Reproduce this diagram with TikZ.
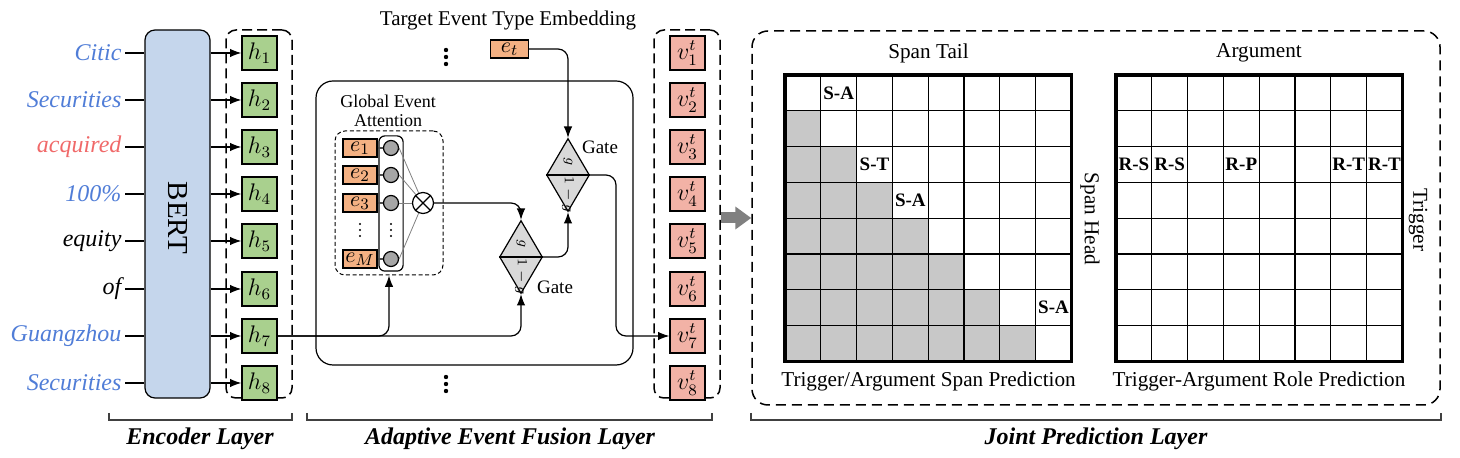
\documentclass[tikz,border=0pt]{standalone}
\usepackage{fontspec}
\setmainfont{Liberation Serif}
\usepackage{xcolor}
\usepackage{tikz}
\usetikzlibrary{arrows.meta}
\usetikzlibrary{positioning}
\usetikzlibrary{shapes}
\usetikzlibrary{fit}

\definecolor{wordblue}{RGB}{80,125,215}
\definecolor{wordred}{RGB}{240,105,105}
\definecolor{bertblue}{RGB}{197,214,236}
\definecolor{hgreen}{RGB}{169,208,142}
\definecolor{eorange}{RGB}{244,177,131}
\definecolor{vpink}{RGB}{242,178,166}
\definecolor{gatefill}{RGB}{217,217,217}
\definecolor{unitgray}{RGB}{166,166,166}
\definecolor{cellgray}{RGB}{200,200,200}
\definecolor{fatgray}{RGB}{128,128,128}

\tikzset{
	word/.style={anchor=east, inner sep=1.5pt, font=\fontsize{12}{14}\selectfont\itshape},
	bertbox/.style={draw, fill=bertblue, rounded corners=5pt, minimum width=32.5pt, minimum height=184pt},
	hbox/.style={draw, fill=hgreen, minimum width=17.5pt, minimum height=17pt, inner sep=0pt, font=\fontsize{12}{14}\selectfont},
	vbox/.style={draw, fill=vpink, minimum width=17.5pt, minimum height=17pt, inner sep=0pt, font=\fontsize{12}{14}\selectfont},
	ebox/.style={draw, fill=eorange, minimum width=17pt, minimum height=9pt, inner sep=0pt, font=\fontsize{11}{12}\selectfont},
	colbox/.style={draw, dash pattern=on 5pt off 2.5pt, line width=0.75pt, rounded corners=5pt, minimum width=33pt, minimum height=184pt},
	attbox/.style={draw, dash pattern=on 2pt off 1.3pt, line width=0.5pt, rounded corners=5pt, minimum width=54pt, minimum height=72pt},
	unit/.style={circle, draw, fill=unitgray, minimum size=7.5pt, inner sep=0pt},
	gate/.style={diamond, draw, fill=gatefill, minimum width=21.5pt, minimum height=36.5pt, inner sep=0pt},
	gatetxt/.style={rotate=-90, inner sep=0pt, font=\fontsize{7}{8}\selectfont},
	link/.style={-{Latex}, rounded corners=5pt},
	fatarrow/.style={draw=fatgray, line width=5.5pt, -{Triangle[length=8pt,width=11pt]}},
	layerbrace/.style={draw=black!75, line width=0.6pt},
	layername/.style={font=\fontsize{12}{14}\selectfont\bfseries\itshape},
	tag/.style={inner sep=0pt, font=\fontsize{9.5}{10}\selectfont\bfseries},
	gridtitle/.style={font=\fontsize{10.6}{12}\selectfont},
}

\begin{document}
\begin{tikzpicture}[x=0.5pt, y=-0.5pt, line width=0.6pt, >=latex, font=\fontsize{10.5}{12}\selectfont]

	\useasboundingbox (0,0) rectangle (1460,458);

	% encoder layer
	\node[word, wordblue] (w1) at (125, 53) {Citic};
	\node[word, wordblue] (w2) at (125, 100) {Securities};
	\node[word, wordred] (w3) at (125, 147) {acquired};
	\node[word, wordblue] (w4) at (125, 194) {100\%};
	\node[word] (w5) at (125, 241) {equity};
	\node[word] (w6) at (125, 289) {of};
	\node[word, wordblue] (w7) at (125, 336) {Guangzhou};
	\node[word, wordblue] (w8) at (125, 383) {Securities};

	\node[bertbox] (bert) at (177.5, 214) {};
	\node[rotate=-90, font=\fontsize{14.5}{16}\selectfont] (berttxt) at (177.5, 218) {BERT};

	\node[colbox] (hcol) at (259, 214) {};
	\node[hbox] (h1) at (259.5, 53) {$h_1$};
	\node[hbox] (h2) at (259.5, 100) {$h_2$};
	\node[hbox] (h3) at (259.5, 147) {$h_3$};
	\node[hbox] (h4) at (259.5, 194) {$h_4$};
	\node[hbox] (h5) at (259.5, 241) {$h_5$};
	\node[hbox] (h6) at (259.5, 289) {$h_6$};
	\node[hbox] (h7) at (259.5, 336) {$h_7$};
	\node[hbox] (h8) at (259.5, 383) {$h_8$};

	\draw (w1.east) -- (w1 -| bert.west);
	\draw (w2.east) -- (w2 -| bert.west);
	\draw (w3.east) -- (w3 -| bert.west);
	\draw (w4.east) -- (w4 -| bert.west);
	\draw (w5.east) -- (w5 -| bert.west);
	\draw (w6.east) -- (w6 -| bert.west);
	\draw (w7.east) -- (w7 -| bert.west);
	\draw (w8.east) -- (w8 -| bert.west);

	\draw[-{Latex}] (h1 -| bert.east) -- (h1.west);
	\draw[-{Latex}] (h2 -| bert.east) -- (h2.west);
	\draw[-{Latex}] (h3 -| bert.east) -- (h3.west);
	\draw[-{Latex}] (h4 -| bert.east) -- (h4.west);
	\draw[-{Latex}] (h5 -| bert.east) -- (h5.west);
	\draw[-{Latex}] (h6 -| bert.east) -- (h6.west);
	\draw[-{Latex}] (h7 -| bert.east) -- (h7.west);
	\draw[-{Latex}] (h8 -| bert.east) -- (h8.west);

	% adaptive event fusion layer
	\node (target) at (508, 20) {Target Event Type Embedding};
	\node[ebox, minimum width=19pt] (et) at (509.5, 49) {$e_t$};
	\foreach \d in {50,57,64} \fill (446,\d) circle (2.2);
	\foreach \d in {377,384,391} \fill (446,\d) circle (2.2);

	\node[draw, rounded corners=8.5pt, minimum width=158.5pt, minimum height=142pt] (fuse) at (474.5, 223) {};

	\node[align=center, font=\fontsize{9}{9.5}\selectfont] (atttitle) at (388, 111) {Global Event\\Attention};
	\node[attbox] (att) at (389, 203) {};

	\node[ebox] (e1) at (360, 148) {$e_1$};
	\node[ebox] (e2) at (360, 175) {$e_2$};
	\node[ebox] (e3) at (360, 203) {$e_3$};
	\node[ebox] (eM) at (360, 259) {$e_M$};
	\foreach \d in {224,230,236} \fill (360,\d) circle (1.2);

	\node[unit] (c1) at (391, 148) {};
	\node[unit] (c2) at (391, 175) {};
	\node[unit] (c3) at (391, 203) {};
	\node[unit] (cM) at (391, 259) {};
	\foreach \d in {224,230,236} \fill (391,\d) circle (1.2);
	\node[draw, rounded corners=3pt, inner sep=2pt, fit=(c1)(cM)] (units) {};

	\node[circle, draw, fill=white, minimum size=10.5pt, inner sep=0pt] (ot) at (423, 203) {};
	\draw (ot.north west) -- (ot.south east) (ot.north east) -- (ot.south west);

	\draw[black!70] (e1.east) -- (c1.west);
	\draw[black!70] (e2.east) -- (c2.west);
	\draw[black!70] (e3.east) -- (c3.west);
	\draw[black!70] (eM.east) -- (cM.west);
	\draw[gray, line width=0.4pt] (c1.east) -- (ot);
	\draw[gray, line width=0.4pt] (c2.east) -- (ot);
	\draw[gray, line width=0.4pt] (c3.east) -- (ot);
	\draw[gray, line width=0.4pt] (cM.east) -- (ot);

	\node[gate] (gl) at (521, 257) {};
	\draw (gl.west) -- (gl.east);
	\node[gatetxt] (glg) at ([yshift=6.5pt]gl.center) {$g$};
	\node[gatetxt] (gl1g) at ([yshift=-10pt]gl.center) {$1-g$};
	\node (gllabel) at (555, 287) {\fontsize{9.5}{10}\selectfont Gate};

	\node[gate] (gu) at (568, 175) {};
	\draw (gu.west) -- (gu.east);
	\node[gatetxt] (gug) at ([yshift=6.5pt]gu.center) {$g$};
	\node[gatetxt] (gu1g) at ([yshift=-10pt]gu.center) {$1-g$};
	\node (gulabel) at (600, 147) {\fontsize{9.5}{10}\selectfont Gate};

	\coordinate (drop) at (616, 175);

	\draw[link] (et.east) -- (et.east -| gu.north) -- (gu.north);
	\draw[link] (ot.east) -- (ot.east -| gl.north) -- (gl.north);
	\draw[link] (gl.east) -- (gl.east -| gu.south) -- (gu.south);
	\draw[link] (h7.east) -- (h7.east -| att.south) -- (att.south);
	\draw[link] (h7.east) -- (h7.east -| gl.south) -- (gl.south);

	\node[colbox] (vcol) at (687, 214) {};
	\node[vbox] (v1) at (687.5, 53) {$v_1^t$};
	\node[vbox] (v2) at (687.5, 100) {$v_2^t$};
	\node[vbox] (v3) at (687.5, 147) {$v_3^t$};
	\node[vbox] (v4) at (687.5, 194) {$v_4^t$};
	\node[vbox] (v5) at (687.5, 241) {$v_5^t$};
	\node[vbox] (v6) at (687.5, 289) {$v_6^t$};
	\node[vbox] (v7) at (687.5, 336) {$v_7^t$};
	\node[vbox] (v8) at (687.5, 383) {$v_8^t$};

	\draw[link] (gu.east) -- (drop) -- (drop |- v7.west) -- (v7.west);

	% joint prediction layer
	\node[draw, dash pattern=on 5pt off 3pt, line width=0.75pt, rounded corners=8pt, minimum width=344pt, minimum height=187pt] (joint) at (1096, 218) {};
	\draw[fatarrow] (vcol.east |- joint.west) -- (joint.west);

	% span grid
	\begin{scope}[shift={(785,75)}]
		\foreach \r in {1,...,7}
			\foreach \c in {1,...,\r}
				\fill[cellgray] ({(\c-1)*35.8},{\r*35.8}) rectangle ++(35.8,35.8);
		\foreach \i in {1,...,7} {
			\draw ({\i*35.8},0) -- ({\i*35.8},286.4);
			\draw (0,{\i*35.8}) -- (286.4,{\i*35.8});
		}
		\draw[line width=1.6pt] (0,0) rectangle (286.4,286.4);
		\node[tag] (sa1) at ({1.5*35.8},{0.5*35.8}) {S-A};
		\node[tag] (st1) at ({2.5*35.8},{2.5*35.8}) {S-T};
		\node[tag] (sa2) at ({3.5*35.8},{3.5*35.8}) {S-A};
		\node[tag] (sa3) at ({7.5*35.8},{6.5*35.8}) {S-A};
	\end{scope}
	\node[gridtitle] (spantail) at (928.5, 53) {Span Tail};
	\node[gridtitle, rotate=-90] (spanhead) at (1090, 219) {Span Head};
	\node[gridtitle] (spanpred) at (928.5, 381) {Trigger/Argument Span Prediction};

	% role grid
	\begin{scope}[shift={(1116,75)}]
		\foreach \i in {1,...,7} {
			\draw ({\i*35.8},0) -- ({\i*35.8},286.4);
			\draw (0,{\i*35.8}) -- (286.4,{\i*35.8});
		}
		\draw[line width=1.6pt] (0,0) rectangle (286.4,286.4);
		\node[tag] (rs1) at ({0.5*35.8},{2.5*35.8}) {R-S};
		\node[tag] (rs2) at ({1.5*35.8},{2.5*35.8}) {R-S};
		\node[tag] (rp1) at ({3.5*35.8},{2.5*35.8}) {R-P};
		\node[tag] (rt1) at ({6.5*35.8},{2.5*35.8}) {R-T};
		\node[tag] (rt2) at ({7.5*35.8},{2.5*35.8}) {R-T};
	\end{scope}
	\node[gridtitle] (argument) at (1259, 53) {Argument};
	\node[gridtitle, rotate=-90] (trigger) at (1418, 220) {Trigger};
	\node[gridtitle] (rolepred) at (1259, 381) {Trigger-Argument Role Prediction};

	% layer braces
	\draw[layerbrace] (109,413) -- (109,420) -- (292,420) -- (292,413);
	\draw[layerbrace] (307,413) -- (307,420) -- (712,420) -- (712,413);
	\draw[layerbrace] (751,413) -- (751,420) -- (1441,420) -- (1441,413);
	\node[layername] (enclayer) at (200, 439) {Encoder Layer};
	\node[layername] (fuselayer) at (510, 439) {Adaptive Event Fusion Layer};
	\node[layername] (jointlayer) at (1096, 439) {Joint Prediction Layer};

\end{tikzpicture}
\end{document}
